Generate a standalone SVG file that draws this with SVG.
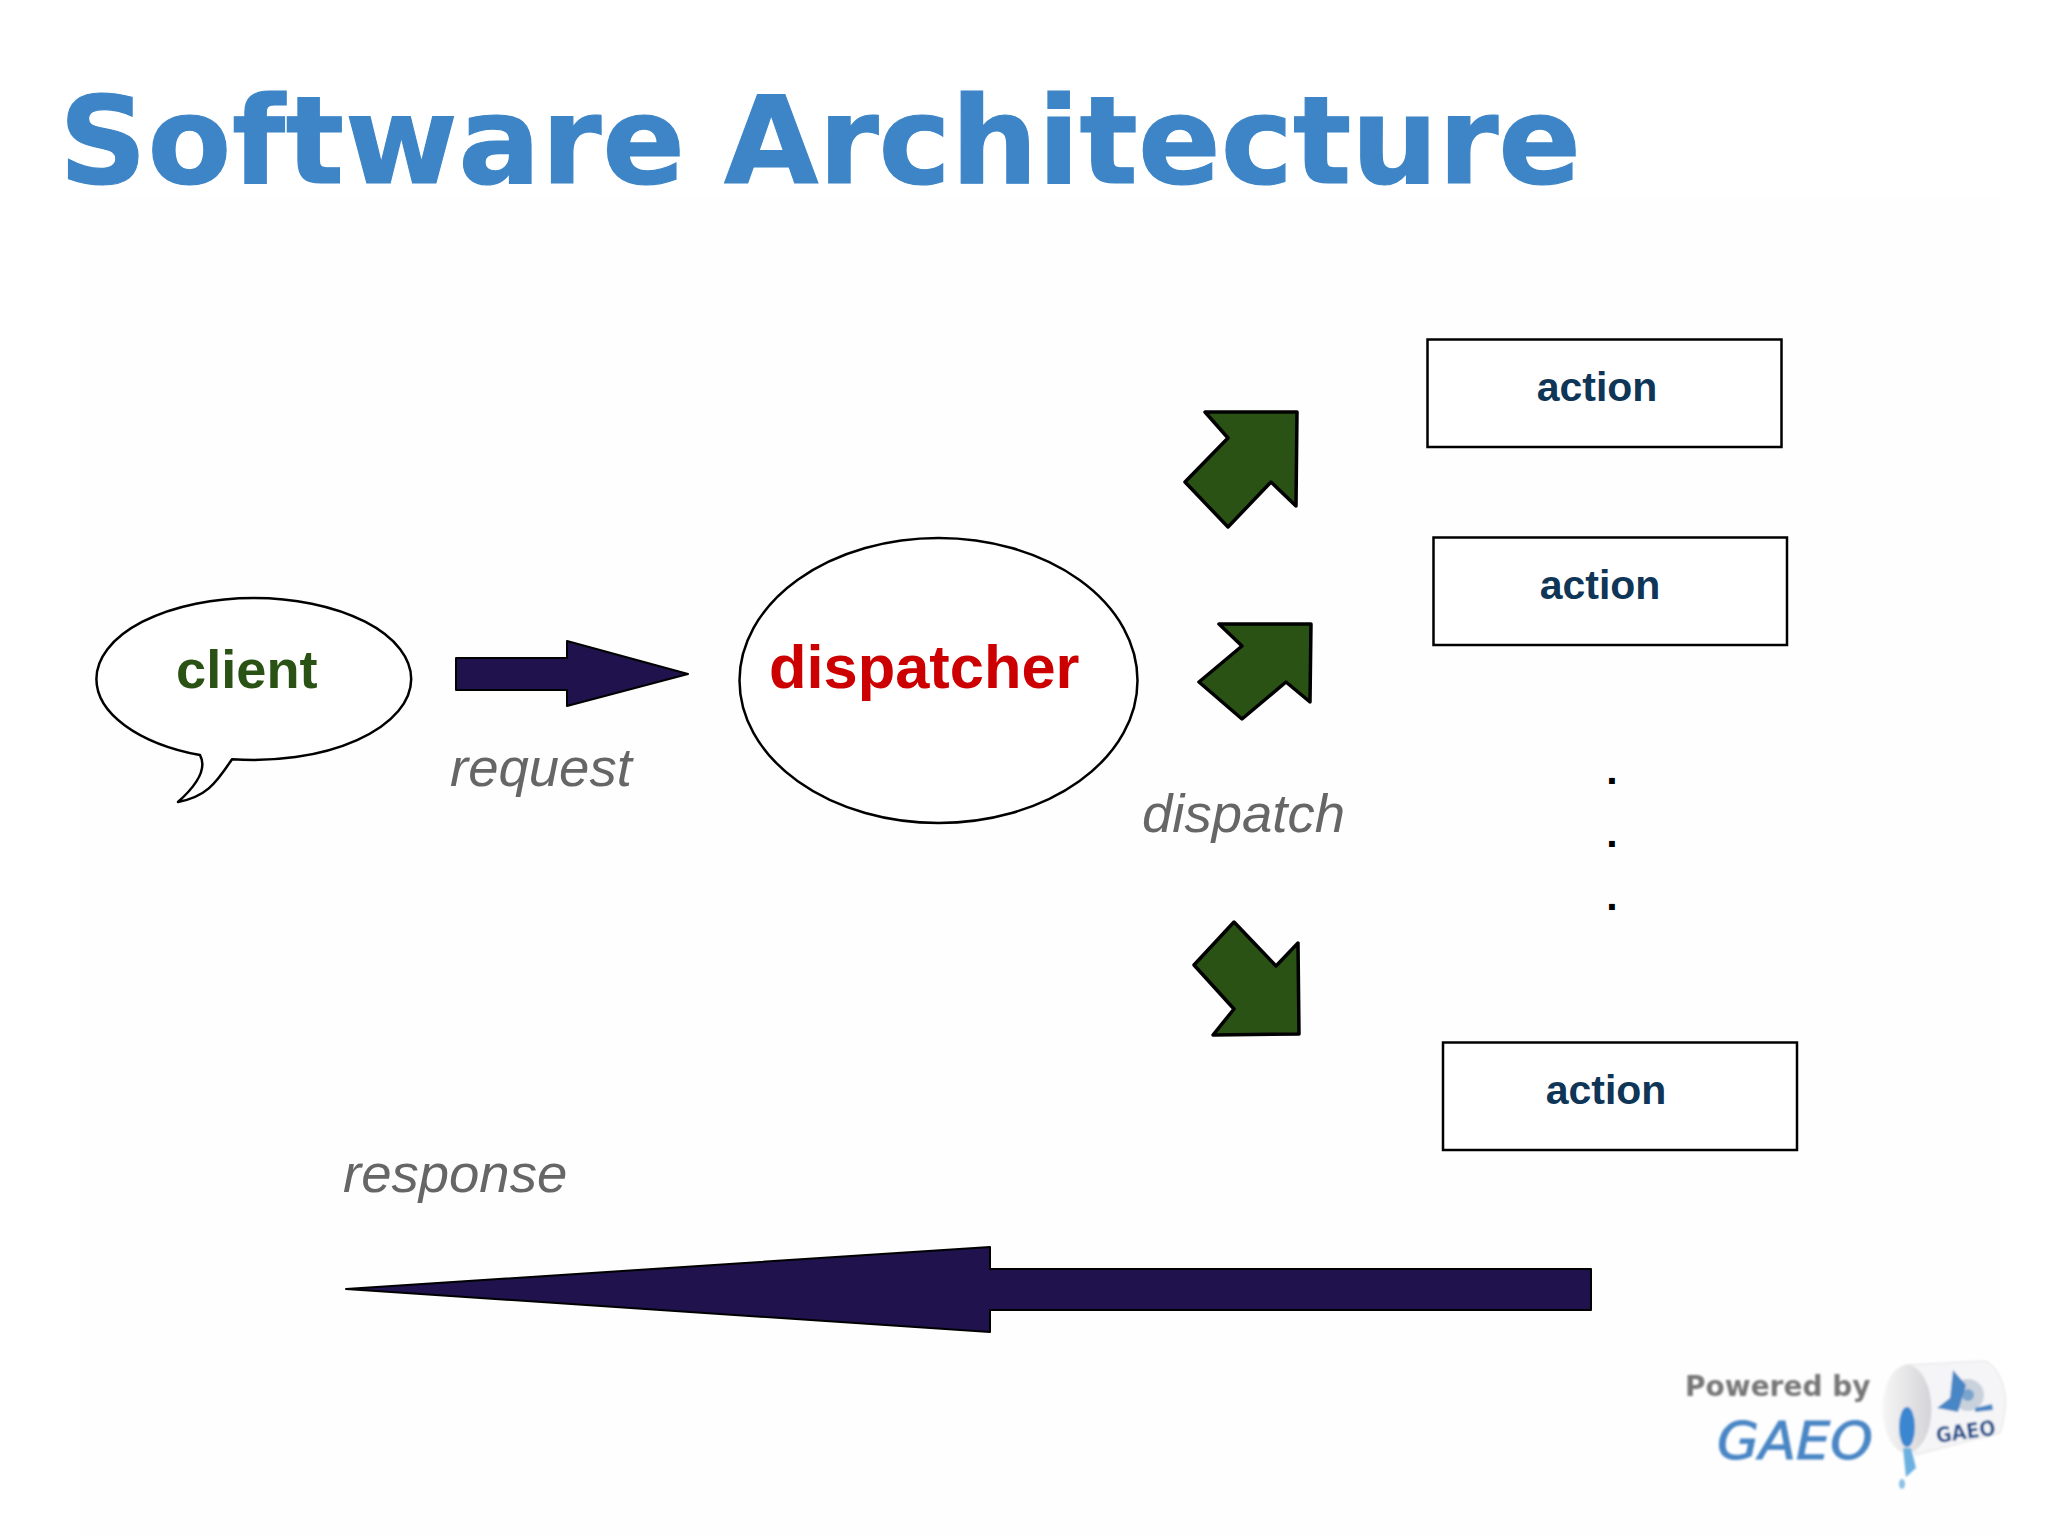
<svg xmlns="http://www.w3.org/2000/svg" width="2048" height="1536" viewBox="0 0 2048 1536">
<style>
.t{font-family:"DejaVu Sans",sans-serif;font-weight:700;font-size:122px;fill:#3d85c6;stroke:#3d85c6;stroke-width:1.2}
.b{font-family:"Liberation Sans",Arial,sans-serif;font-weight:700}
.i{font-family:"Liberation Sans",Arial,sans-serif;font-style:italic;font-size:54.5px;fill:#666}
.act{font-size:41px;fill:#0f3557;text-anchor:middle}
.box{fill:#fff;stroke:#000;stroke-width:2.5}
.navy{fill:#1f124d;stroke:#000;stroke-width:2;stroke-linejoin:round}
.green{fill:#2b5215;stroke:#000;stroke-width:3.5;stroke-linejoin:round}
.dot{font-size:41px;fill:#000;text-anchor:middle}
</style>
<defs>
<filter id="blur" x="-10%" y="-10%" width="120%" height="120%"><feGaussianBlur stdDeviation="1"/></filter>
<linearGradient id="face" x1="0" y1="0" x2="1" y2="0"><stop offset="0" stop-color="#f6f6f6"/><stop offset="1" stop-color="#d4d4d8"/></linearGradient>
</defs>
<rect width="2048" height="1536" fill="#fff"/>
<rect x="80" y="198" width="1920" height="1338" fill="#fefefe"/>
<text class="t" x="59" y="183"><tspan letter-spacing="0.7">Software</tspan> <tspan x="724">Architecture</tspan></text>
<g id="client">
<path d="M200 755.1A157.4 81 0 0 1 96.4 679A157.4 81 0 0 1 411.2 679A157.4 81 0 0 1 232 759.2C215 785 205 797 178 802C197 785 207 768 200 755.1Z" fill="#fff" stroke="#000" stroke-width="2.5" stroke-linejoin="round"/>
<text class="b" x="176" y="688" font-size="54.2" fill="#2b5215">client</text>
</g>
<g id="dispatcher">
<ellipse cx="938.5" cy="680.5" rx="199" ry="142.5" fill="#fff" stroke="#000" stroke-width="2.5"/>
<text class="b" x="769" y="688" font-size="61.4" fill="#cc0000">dispatcher</text>
</g>
<g id="action1"><rect class="box" x="1427.5" y="339.5" width="354" height="107.5"/><text class="b act" x="1597" y="401">action</text></g>
<g id="action2"><rect class="box" x="1433.5" y="537.5" width="353.5" height="107.5"/><text class="b act" x="1600" y="599">action</text></g>
<g id="action3"><rect class="box" x="1443" y="1042.5" width="354" height="107.5"/><text class="b act" x="1606" y="1104">action</text></g>
<g id="dots">
<text class="b dot" x="1612" y="784">.</text>
<text class="b dot" x="1612" y="847">.</text>
<text class="b dot" x="1612" y="910">.</text>
</g>
<g id="connectors">
<polygon class="navy" points="456,658 567,658 567,641 688,674 567,706 567,690 456,690"/>
<polygon class="navy" points="1591,1269 990,1269 990,1247 346,1289 990,1332 990,1310 1591,1310"/>
<polygon class="green" points="1205,412 1297,412 1296,506 1271,482 1228,527 1185,482 1228,438"/>
<polygon class="green" points="1219,624 1311,624 1310,702 1286,682 1242,719 1199,682 1242,646"/>
<polygon class="green" points="1298,943 1299,1034 1213,1035 1234,1009 1194,965 1234,922 1276,966"/>
</g>
<g id="labels">
<text class="i" x="450" y="786">request</text>
<text class="i" x="1142" y="832">dispatch</text>
<text class="i" x="343" y="1192">response</text>
</g>
<g id="logo" filter="url(#blur)">
<text x="1685" y="1396" font-family="'DejaVu Sans',sans-serif" font-weight="700" font-size="28" fill="#777">Powered by</text>
<text x="1717" y="1459" font-family="'DejaVu Sans',sans-serif" font-style="italic" font-size="52" fill="#4a86c5" stroke="#4a86c5" stroke-width="1" textLength="156" lengthAdjust="spacingAndGlyphs">GAEO</text>
<path d="M1905 1365L1985 1361C2000 1366 2008 1395 2005 1408C2004 1420 2002 1428 2000 1433L1915 1455Z" fill="#f5f5f7" stroke="#e2e2e4"/>
<ellipse cx="1907" cy="1409" rx="24.5" ry="44" fill="url(#face)"/>
<ellipse cx="1907" cy="1427" rx="8" ry="20" fill="#3a86d0"/>
<path d="M1903 1448L1911 1448L1916 1468L1906 1477Z" fill="#6bb0e0"/>
<ellipse cx="1902" cy="1484" rx="3" ry="5" fill="#8cc0e4"/>
<circle cx="1968" cy="1395" r="16" fill="#c9d2dc"/>
<circle cx="1968" cy="1395" r="6" fill="#7aa4cc"/>
<path d="M1937 1408L1950 1398L1953 1370L1966 1385L1958 1412Z" fill="#4a86c5"/>
<path d="M1975 1408L1992 1404L1993 1410L1975 1412Z" fill="#4a86c5"/>
<text x="1937" y="1443" font-family="'DejaVu Sans',sans-serif" font-weight="700" font-size="21" fill="#1f4e8c" transform="rotate(-8 1937 1443)" textLength="60" lengthAdjust="spacingAndGlyphs">GAEO</text>
</g>
</svg>
